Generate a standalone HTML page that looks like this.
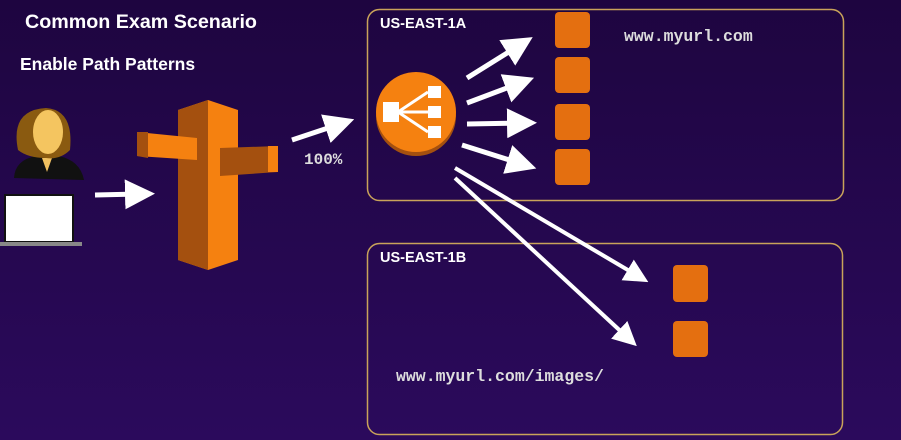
<!DOCTYPE html>
<html><head><style>
html,body{margin:0;padding:0;}
body{width:901px;height:440px;overflow:hidden;background:linear-gradient(#1e0540,#2b0a5c);}
svg{display:block}
</style></head><body>
<svg width="901" height="440" viewBox="0 0 901 440" xmlns="http://www.w3.org/2000/svg">
<defs>
<marker id="ah" markerWidth="6" markerHeight="6" refX="3" refY="3" orient="auto" markerUnits="strokeWidth">
<path d="M0,0 L6,3 L0,6 Z" fill="#fff"/></marker>
</defs>
<text x="25" y="28" font-family="Liberation Sans, sans-serif" font-weight="bold" font-size="19.7" fill="#fff">Common Exam Scenario</text>
<text x="20" y="70" font-family="Liberation Sans, sans-serif" font-weight="bold" font-size="17.5" fill="#fff">Enable Path Patterns</text>

<rect x="367.5" y="9.5" width="476" height="191" rx="12" fill="none" stroke="#c9a35a" stroke-width="1.5"/>
<rect x="367.5" y="243.5" width="475" height="191" rx="12" fill="none" stroke="#c9a35a" stroke-width="1.5"/>
<text x="380" y="28" font-family="Liberation Sans, sans-serif" font-weight="bold" font-size="14.5" fill="#fff">US-EAST-1A</text>
<text x="380" y="262" font-family="Liberation Sans, sans-serif" font-weight="bold" font-size="14.5" fill="#fff">US-EAST-1B</text>
<text x="624" y="41" font-family="Liberation Mono, monospace" font-weight="bold" font-size="16.5" fill="#ddd">www.myurl.com</text>
<text x="396" y="381" font-family="Liberation Mono, monospace" font-weight="bold" font-size="16.5" fill="#ddd">www.myurl.com/images/</text>
<text x="304" y="164" font-family="Liberation Mono, monospace" font-weight="bold" font-size="16" fill="#ddd">100%</text>

<g fill="#e46f10">
<rect x="555" y="12" width="35" height="36" rx="4"/>
<rect x="555" y="57" width="35" height="36" rx="4"/>
<rect x="555" y="104" width="35" height="36" rx="4"/>
<rect x="555" y="149" width="35" height="36" rx="4"/>
<rect x="673" y="265" width="35" height="37" rx="4"/>
<rect x="673" y="321" width="35" height="36" rx="4"/>
</g>

<circle cx="416" cy="116" r="40" fill="#a4500f"/>
<circle cx="416" cy="112" r="40" fill="#f58110"/>
<g fill="#fff" stroke="#fff">
<rect x="383" y="102" width="16" height="20" stroke="none"/>
<rect x="428" y="86" width="13" height="12" stroke="none"/>
<rect x="428" y="106" width="13" height="12" stroke="none"/>
<rect x="428" y="126" width="13" height="12" stroke="none"/>
<path d="M398 112 L428 92 M398 112 L428 112 M398 112 L428 132" stroke-width="3" fill="none"/>
</g>

<g stroke="#fff" stroke-width="5" fill="none" marker-end="url(#ah)">
<path d="M95 195 L140 194"/>
<path d="M292 140 L340 124"/>
<path d="M467 78 L520 45"/>
<path d="M467 103 L520 83"/>
<path d="M467 124 L522 123"/>
<path d="M462 145 L522 164"/>
</g>
<g stroke="#fff" stroke-width="4" fill="none" marker-end="url(#ah)">
<path d="M455 168 L638 276"/>
<path d="M455 178 L628 338"/>
</g>

<polygon points="178,110 208,100 238,110 238,260 208,270 178,260" fill="#f58110"/>
<polygon points="178,110 208,100 208,270 178,260" fill="#a4500f"/>
<polygon points="137,132 197,138 197,160 137,156" fill="#f58110"/>
<polygon points="137,132 148,132 148,158 137,156" fill="#a4500f"/>
<polygon points="220,148 278,146 278,172 220,176" fill="#a4500f"/>
<polygon points="268,146 278,146 278,172 268,172" fill="#f58110"/>

<path d="M14 178 Q15 160 36 156 L58 156 Q80 160 84 180 Z" fill="#111"/>
<path d="M42 158 L52 158 L47 172 Z" fill="#f0c060"/>
<path d="M18 150 Q10 110 46 108 Q74 110 70 150 Q60 160 46 158 Q28 158 18 150Z" fill="#8a5a10"/>
<ellipse cx="48" cy="132" rx="15" ry="22" fill="#f4c560"/>
<rect x="4" y="194" width="70" height="50" fill="#111"/>
<rect x="6" y="196" width="66" height="45" fill="#fff"/>
<rect x="0" y="242" width="82" height="4" fill="#888"/>
</svg>
</body></html>
